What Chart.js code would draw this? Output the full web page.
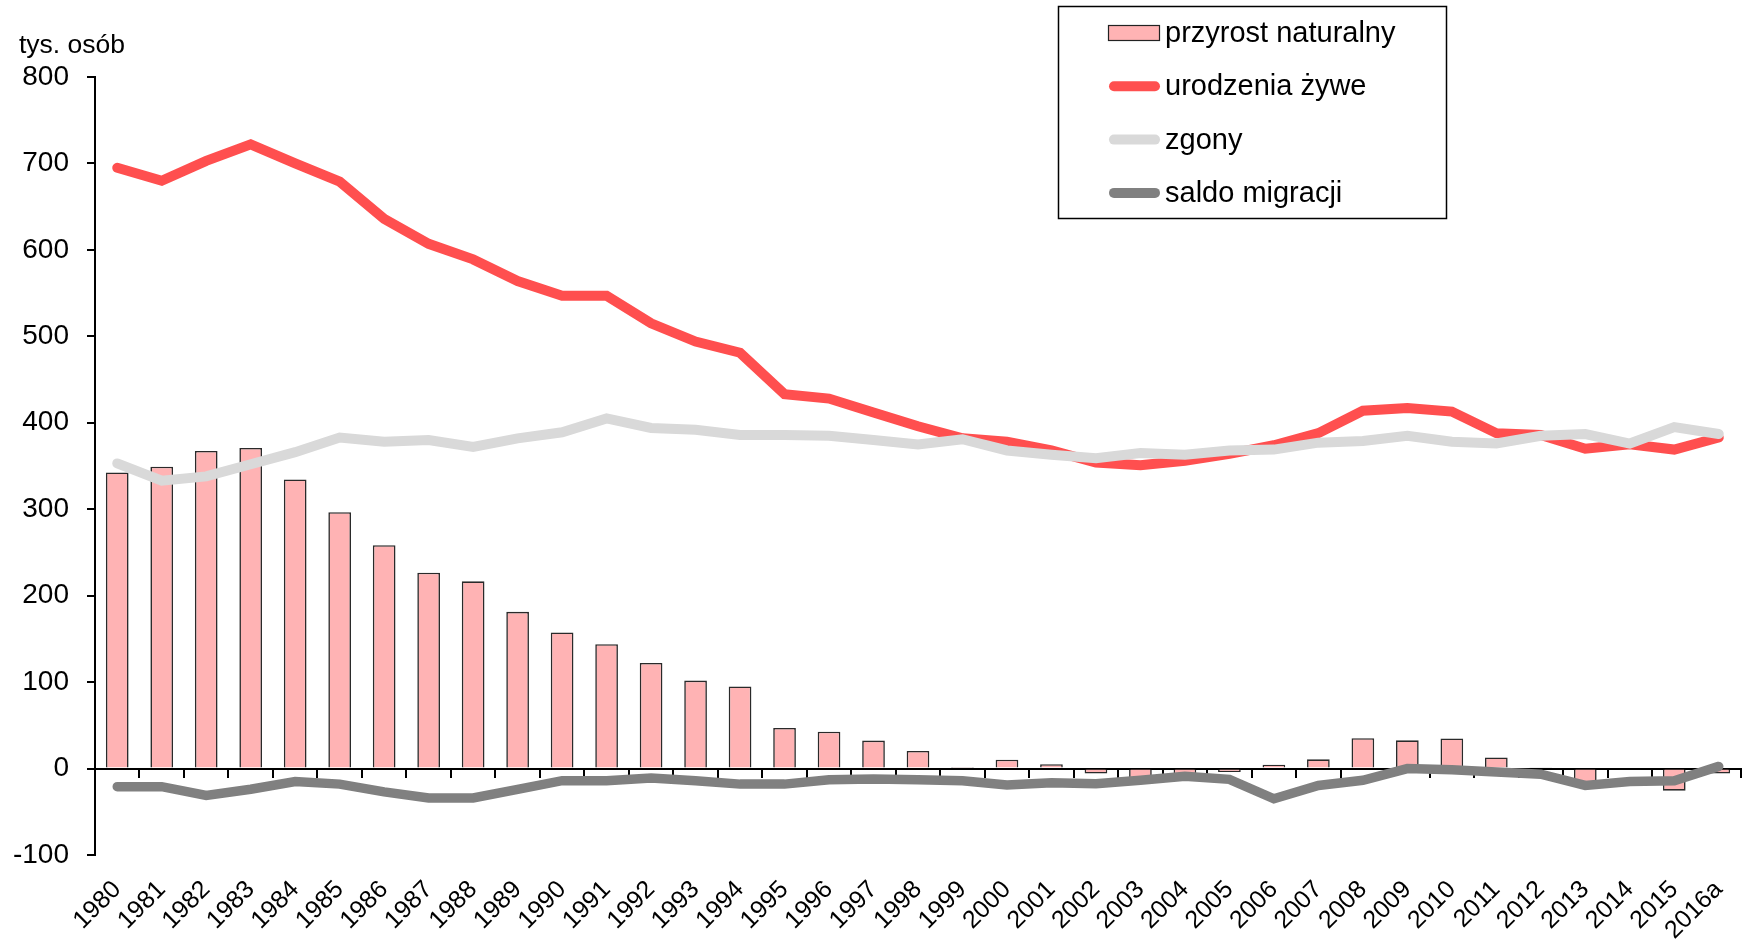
<!DOCTYPE html>
<html lang="pl">
<head>
<meta charset="utf-8">
<title>Ruch naturalny i migracje</title>
<script src="https://cdn.jsdelivr.net/npm/chart.js@4/dist/chart.umd.min.js"></script>
<style>
    html, body { margin: 0; padding: 0; background: #fff; }
    #wrap { position: relative; width: 1752px; height: 940px; }
</style>
</head>
<body>
<div id="wrap"><canvas id="pop-chart"></canvas></div>
<script>
// Dane (tys. osób)
var years = ['1980', '1981', '1982', '1983', '1984', '1985', '1986', '1987', '1988', '1989',
    '1990', '1991', '1992', '1993', '1994', '1995', '1996', '1997', '1998', '1999',
    '2000', '2001', '2002', '2003', '2004', '2005', '2006', '2007', '2008', '2009',
    '2010', '2011', '2012', '2013', '2014', '2015', '2016a'];

var naturalIncrease = [342.6, 349.2, 367.4, 370.8, 334.4, 296.5, 258.4, 226.5, 216.6, 181.3,
    157.4, 143.8, 122.1, 101.8, 94.9, 47.0, 42.7, 32.4, 20.4, 0.6,
    10.3, 5.0, -5.7, -14.1, -7.4, -3.9, 4.5, 10.7, 35.1, 32.7,
    34.8, 12.9, 1.5, -17.7, -1.3, -25.6, -5.8];

var births = [695, 680, 703, 722, 700, 679, 636, 607, 589, 564,
    547, 547, 515, 494, 481, 433, 428, 412, 396, 382,
    378, 368, 354, 351, 356, 364, 374, 388, 414, 417,
    413, 388, 386, 370, 375, 369, 383];

var deaths = [353, 333, 338, 352, 366, 383, 378, 380, 372, 382,
    389, 405, 394, 392, 386, 386, 385, 380, 375, 381,
    368, 363, 359, 365, 363, 368, 369, 377, 379, 385,
    378, 376, 385, 387, 376, 395, 387];

var netMigration = [-21, -21, -31, -24, -15, -18, -27, -34, -34, -24,
    -14, -14, -11, -14, -18, -18, -13, -12, -13, -14,
    -19, -16.5, -17.5, -13.5, -9, -12.5, -35, -19.5, -13.5, 0,
    -1.5, -4, -6.5, -19.5, -15, -14, 2.5];

var yTicks = [-100, 0, 100, 200, 300, 400, 500, 600, 700, 800];

var FONT = '"Liberation Sans", Arial, sans-serif';

/**
 * Legenda w ramce + opis osi Y
 */
var legendBoxPlugin = {
    id: 'legendBox',
    afterDraw: function(chart) {
        var ctx = chart.ctx;
        ctx.save();

        // opis jednostki nad osią Y
        ctx.fillStyle = '#000';
        ctx.font = '26.5px ' + FONT;
        ctx.textAlign = 'left';
        ctx.textBaseline = 'alphabetic';
        ctx.fillText('tys. osób', 19, 53);

        // ramka legendy
        ctx.fillStyle = '#fff';
        ctx.fillRect(1058, 6, 389, 213);
        ctx.strokeStyle = '#000';
        ctx.lineWidth = 1.5;
        ctx.strokeRect(1058.5, 6.5, 388, 212);

        chart.data.datasets.forEach(function(ds, i) {
            var y = 33 + i * 53.3;
            if (ds.type === 'bar') {
                ctx.fillStyle = ds.backgroundColor;
                ctx.fillRect(1108, y - 8, 52, 16);
                ctx.strokeStyle = '#222';
                ctx.lineWidth = 1.2;
                ctx.strokeRect(1108.5, y - 7.5, 51, 15);
            } else {
                ctx.strokeStyle = ds.borderColor;
                ctx.lineWidth = 10;
                ctx.lineCap = 'round';
                ctx.beginPath();
                ctx.moveTo(1114, y);
                ctx.lineTo(1155, y);
                ctx.stroke();
            }
            ctx.fillStyle = '#000';
            ctx.font = '29px ' + FONT;
            ctx.textBaseline = 'middle';
            ctx.fillText(ds.label, 1165, y + 1);
        });

        ctx.restore();
    }
};

function lineDataset(label, data, color, width, order) {
    return {
        type: 'line',
        label: label,
        data: data,
        borderColor: color,
        backgroundColor: color,
        borderWidth: width,
        borderCapStyle: 'round',
        borderJoinStyle: 'miter',
        pointRadius: 0,
        pointHoverRadius: 0,
        tension: 0,
        fill: false,
        order: order
    };
}

var ctx = document.getElementById('pop-chart').getContext('2d');

var popChart = new Chart(ctx, {
    data: {
        labels: years,
        datasets: [
            {
                type: 'bar',
                label: 'przyrost naturalny',
                data: naturalIncrease,
                backgroundColor: '#FFB3B4',
                borderColor: '#2a2a2a',
                borderWidth: 1.6,
                barPercentage: 0.51,
                categoryPercentage: 1,
                order: 4
            },
            lineDataset('urodzenia żywe', births, '#FF4F4F', 10, 3),
            lineDataset('zgony', deaths, '#D9D9D9', 10, 2),
            lineDataset('saldo migracji', netMigration, '#808080', 9.5, 1)
        ]
    },
    options: {
        responsive: true,
        maintainAspectRatio: false,
        animation: false,
        layout: {
            padding: { top: 77, right: 11, bottom: 0, left: 0 }
        },
        plugins: {
            legend: { display: false },
            tooltip: { enabled: false }
        },
        scales: {
            x: {
                type: 'category',
                position: { y: 0 },
                offset: true,
                grid: {
                    offset: true,
                    drawOnChartArea: false,
                    drawTicks: true,
                    tickLength: 8,
                    color: '#000',
                    lineWidth: 2
                },
                border: { display: true, color: '#000', width: 2 },
                ticks: { display: false }
            },
            x2: {
                type: 'category',
                axis: 'x',
                position: 'bottom',
                labels: years,
                offset: true,
                grid: { display: false, drawTicks: false },
                border: { display: false },
                ticks: {
                    color: '#000',
                    font: { family: FONT, size: 25 },
                    minRotation: 45,
                    maxRotation: 45,
                    autoSkip: false,
                    padding: 20
                },
                afterFit: function(scale) {
                    scale.height = 85;
                    // bez dodatkowego marginesu na obrócone etykiety
                    scale.paddingRight = 0;
                    scale.paddingLeft = 0;
                }
            },
            y: {
                min: -100,
                max: 800,
                afterBuildTicks: function(scale) {
                    scale.ticks = yTicks.map(function(v) { return { value: v }; });
                },
                grid: {
                    drawOnChartArea: false,
                    drawTicks: true,
                    tickLength: 8,
                    color: '#000',
                    lineWidth: 2
                },
                border: { display: true, color: '#000', width: 2 },
                ticks: {
                    color: '#000',
                    font: { family: FONT, size: 28 },
                    padding: 18
                },
                afterFit: function(scale) {
                    scale.width = 95;
                }
            }
        }
    },
    plugins: [legendBoxPlugin]
});
</script>
</body>
</html>
